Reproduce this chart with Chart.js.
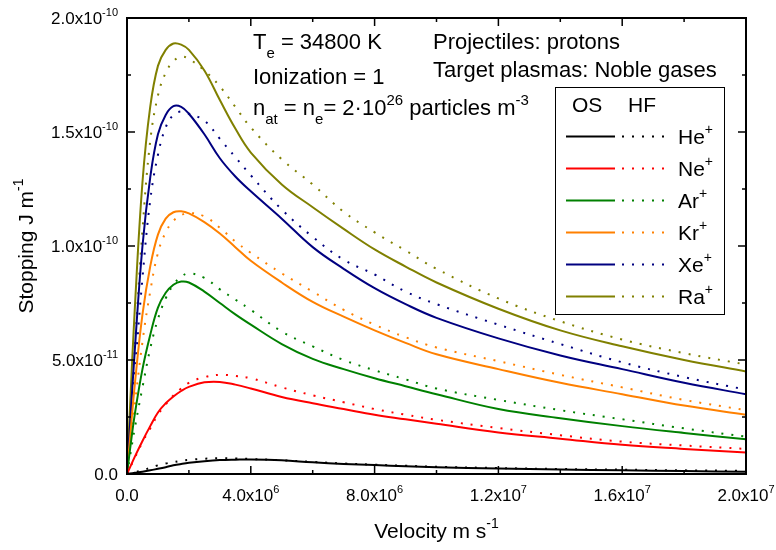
<!DOCTYPE html>
<html>
<head>
<meta charset="utf-8">
<script src="https://cdn.jsdelivr.net/npm/chart.js@4.4.1/dist/chart.umd.min.js"></script>
<style>
  html, body { margin: 0; padding: 0; background: #fff; }
  #wrap { width: 776px; height: 550px; }
</style>
</head>
<body>
<div id="wrap"><canvas id="chart" width="776" height="550"></canvas></div>
<script>
// velocity grid, in 10^6 m/s
const VELOCITY = [0, 0.1, 0.25, 0.5, 0.75, 1, 1.25, 1.5, 1.75, 2, 2.5, 3, 3.5, 4, 5, 6, 7, 8, 9, 10, 12, 14, 16, 18, 20];

// stopping, in 10^-12 J/m  (OS = solid, HF = dotted)
const HE_OS = [0, 0.2, 0.5, 1.0, 1.6, 2.3, 3.0, 3.8, 4.4, 4.9, 5.6, 6.1, 6.3, 6.4, 6.0, 5.1, 4.4, 3.9, 3.4, 3.0, 2.4, 2.0, 1.6, 1.3, 1.0];
const HE_HF = [0, 0.3, 0.8, 1.6, 2.7, 3.8, 4.6, 5.2, 5.8, 6.2, 6.7, 6.9, 6.8, 6.6, 6.0, 5.3, 4.6, 4.1, 3.6, 3.2, 2.6, 2.2, 1.9, 1.6, 1.4];
const NE_OS = [0, 3, 7.5, 14.5, 21, 27, 31, 34, 36.4, 38.2, 40.2, 40.4, 39.2, 37.5, 33.8, 31, 28.5, 26, 24, 22, 18.2, 15.5, 12.8, 11, 9.4];
const NE_HF = [0, 2.8, 7, 14, 20, 26, 30.5, 34.5, 37.5, 40, 42.5, 43.5, 43, 42, 38, 34.5, 31.5, 28.5, 26, 23.8, 20.2, 17, 14.2, 12.5, 11];
const AR_OS = [0, 11, 26, 46, 61, 73, 79.5, 83, 84.4, 84, 80, 75, 70, 65.5, 57, 50.5, 46, 42, 38.5, 35, 28.5, 24.5, 21, 18, 15.2];
const AR_HF = [0, 8, 20, 38, 55, 68, 77, 83, 86.5, 88, 86, 81, 76.5, 72, 62.5, 56, 50, 45.5, 41.5, 37.5, 32.5, 28, 24, 20, 16.4];
const KR_OS = [0, 16, 39, 70, 91, 105, 112, 114.8, 115.2, 114.3, 110.5, 105.5, 99.5, 93.5, 84, 75.5, 69, 63, 57.5, 52.5, 46, 40, 35, 30, 26];
const KR_HF = [0, 12, 30, 58, 80, 97, 106, 111, 113.5, 114.5, 113, 108, 102, 97, 88, 80, 72, 65.5, 60, 55.5, 49.5, 43.5, 38, 32.5, 28];
const XE_OS = [0, 22, 54, 100, 130, 149, 157.5, 161.3, 161, 158, 149, 138.5, 130.5, 124, 112, 99.5, 90, 81.5, 74.5, 68.5, 59.5, 52, 46, 40, 35];
const XE_HF = [0, 18, 44, 86, 120, 140, 152, 157.5, 159, 158, 155, 147, 139, 131, 116, 104, 94, 87.5, 80, 74.5, 65.5, 57, 49, 42.5, 37];
const RA_OS = [0, 30, 72, 128, 161, 179, 186, 188.8, 188.3, 186, 177, 164, 151.5, 141, 127, 117, 107.5, 98.5, 91, 84, 72.5, 63, 56, 50, 45];
const RA_HF = [0, 22, 55, 107, 146, 166, 176, 181, 183, 182, 177, 170, 161, 152, 138, 127, 115, 106, 98, 90, 77, 67, 59, 53, 48];

const IONS = ["He", "Ne", "Ar", "Kr", "Xe", "Ra"];
const ION_COLORS = ["#000000", "#ff0000", "#008000", "#ff8000", "#000080", "#808000"];
const OS_VALUES = [HE_OS, NE_OS, AR_OS, KR_OS, XE_OS, RA_OS];
const HF_VALUES = [HE_HF, NE_HF, AR_HF, KR_HF, XE_HF, RA_HF];

const X_TICKS = [0, 4e6, 8e6, 1.2e7, 1.6e7, 2e7];
const X_TICK_LABELS = [["0.0", ""], ["4.0x10", "6"], ["8.0x10", "6"], ["1.2x10", "7"], ["1.6x10", "7"], ["2.0x10", "7"]];
const X_MINOR = [2e6, 6e6, 1e7, 1.4e7, 1.8e7];
const Y_TICKS = [0, 5e-11, 1e-10, 1.5e-10, 2e-10];
const Y_TICK_LABELS = [["0.0", ""], ["5.0x10", "-11"], ["1.0x10", "-10"], ["1.5x10", "-10"], ["2.0x10", "-10"]];
const Y_MINOR = [2.5e-11, 7.5e-11, 1.25e-10, 1.75e-10];

const FONT = '"Liberation Sans", Arial, sans-serif';

// parts: [text, kind] with kind 0 normal, 1 superscript, -1 subscript
function richWidth(ctx, parts, size) {
  let w = 0;
  parts.forEach(([t, k]) => {
    ctx.font = (k ? Math.round(size * 0.66) : size) + "px " + FONT;
    w += ctx.measureText(t).width;
  });
  return w;
}

function drawRich(ctx, parts, x, y, size, align) {
  let w = richWidth(ctx, parts, size);
  if (align === "right") x -= w;
  if (align === "center") x -= w / 2;
  ctx.textAlign = "left";
  ctx.textBaseline = "alphabetic";
  parts.forEach(([t, k]) => {
    ctx.font = (k ? Math.round(size * 0.66) : size) + "px " + FONT;
    let dy = k === 1 ? -size * 0.47 : (k === -1 ? size * 0.42 : 0);
    ctx.fillText(t, x, y + dy);
    x += ctx.measureText(t).width;
  });
}

const framePlugin = {
  id: "frame",
  afterDraw(chart) {
    const ctx = chart.ctx;
    const a = chart.chartArea;
    const xs = chart.scales.x, ys = chart.scales.y;
    ctx.save();
    ctx.fillStyle = "#000";
    ctx.strokeStyle = "#000";

    // axis box
    ctx.lineWidth = 2;
    ctx.strokeRect(a.left, a.top, a.right - a.left, a.bottom - a.top);

    // inward ticks on all four sides
    ctx.lineWidth = 1.5;
    ctx.beginPath();
    const tickX = (v, len) => {
      const px = xs.getPixelForValue(v);
      ctx.moveTo(px, a.bottom); ctx.lineTo(px, a.bottom - len);
      ctx.moveTo(px, a.top); ctx.lineTo(px, a.top + len);
    };
    const tickY = (v, len) => {
      const py = ys.getPixelForValue(v);
      ctx.moveTo(a.left, py); ctx.lineTo(a.left + len, py);
      ctx.moveTo(a.right, py); ctx.lineTo(a.right - len, py);
    };
    X_TICKS.forEach(v => tickX(v, 8));
    X_MINOR.forEach(v => tickX(v, 4));
    Y_TICKS.forEach(v => tickY(v, 8));
    Y_MINOR.forEach(v => tickY(v, 4));
    ctx.stroke();

    // tick labels
    X_TICKS.forEach((v, i) => {
      const [m, s] = X_TICK_LABELS[i];
      drawRich(ctx, [[m, 0], [s, 1]], xs.getPixelForValue(v), a.bottom + 27, 17, "center");
    });
    Y_TICKS.forEach((v, i) => {
      const [m, s] = Y_TICK_LABELS[i];
      drawRich(ctx, [[m, 0], [s, 1]], a.left - 9, ys.getPixelForValue(v) + 6, 17, "right");
    });

    // axis titles
    drawRich(ctx, [["Velocity m s", 0], ["-1", 1]], (a.left + a.right) / 2, 538, 21, "center");
    ctx.save();
    ctx.translate(33, (a.top + a.bottom) / 2);
    ctx.rotate(-Math.PI / 2);
    drawRich(ctx, [["Stopping J m", 0], ["-1", 1]], 0, 0, 21, "center");
    ctx.restore();

    // annotations
    drawRich(ctx, [["T", 0], ["e", -1], [" = 34800 K", 0]], 253, 49, 22);
    drawRich(ctx, [["Ionization = 1", 0]], 253, 84, 22);
    drawRich(ctx, [["n", 0], ["at", -1], [" = n", 0], ["e", -1], ["= 2\u00b710", 0], ["26", 1], [" particles m", 0], ["-3", 1]], 253, 115, 22);
    drawRich(ctx, [["Projectiles: protons", 0]], 433, 49, 22);
    drawRich(ctx, [["Target plasmas: Noble gases", 0]], 433, 77, 22);

    // legend box
    ctx.fillStyle = "#fff";
    ctx.fillRect(555, 87, 169, 227);
    ctx.lineWidth = 1;
    ctx.strokeStyle = "#000";
    ctx.strokeRect(555.5, 87.5, 169, 227);
    ctx.fillStyle = "#000";
    drawRich(ctx, [["OS", 0]], 572, 112, 21);
    drawRich(ctx, [["HF", 0]], 628, 112, 21);
    IONS.forEach((name, i) => {
      const ly = 136.5 + 32 * i;
      ctx.strokeStyle = ION_COLORS[i];
      ctx.lineWidth = 2;
      ctx.setLineDash([]);
      ctx.beginPath(); ctx.moveTo(566, ly); ctx.lineTo(615, ly); ctx.stroke();
      ctx.setLineDash([2, 8]);
      ctx.beginPath(); ctx.moveTo(622, ly); ctx.lineTo(672, ly); ctx.stroke();
      ctx.setLineDash([]);
      ctx.fillStyle = "#000";
      drawRich(ctx, [[name, 0], ["+", 1]], 678, ly + 7.5, 21);
    });
    ctx.restore();
  }
};

const datasets = [];
IONS.forEach((name, i) => {
  datasets.push({
    label: name + "+ OS",
    data: VELOCITY.map((v, k) => ({ x: v * 1e6, y: OS_VALUES[i][k] * 1e-12 })),
    borderColor: ION_COLORS[i],
    borderWidth: 2,
    pointRadius: 0,
    tension: 0.4
  });
  datasets.push({
    label: name + "+ HF",
    data: VELOCITY.map((v, k) => ({ x: v * 1e6, y: HF_VALUES[i][k] * 1e-12 })),
    borderColor: ION_COLORS[i],
    borderWidth: 2,
    borderDash: [2, 8],
    pointRadius: 0,
    tension: 0.4
  });
});

new Chart(document.getElementById("chart"), {
  type: "line",
  data: { datasets: datasets },
  options: {
    responsive: false,
    animation: false,
    layout: { padding: { left: 127, right: 30, top: 18, bottom: 76 } },
    plugins: {
      legend: { display: false },
      tooltip: { enabled: false }
    },
    scales: {
      x: { type: "linear", min: 0, max: 2e7, display: false },
      y: { type: "linear", min: 0, max: 2e-10, display: false }
    }
  },
  plugins: [framePlugin]
});
</script>
</body>
</html>
